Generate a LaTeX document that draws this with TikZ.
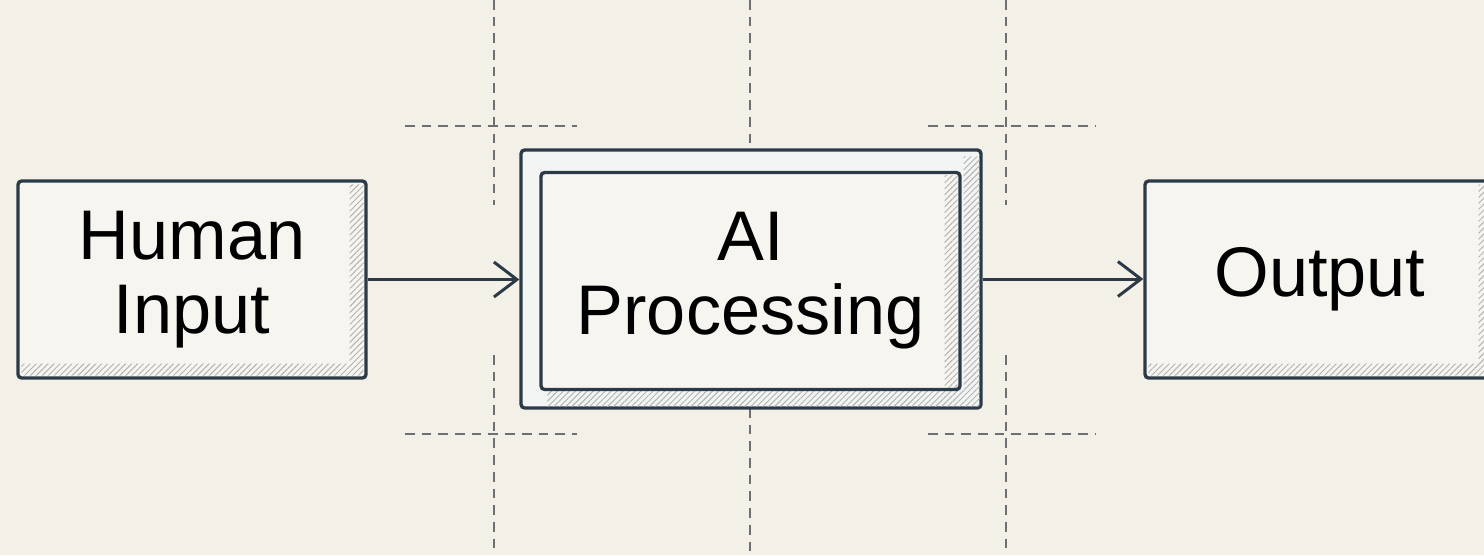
\documentclass[tikz,border=0pt]{standalone}
\usepackage{fontspec}
\setmainfont{Liberation Sans}
\usetikzlibrary{arrows.meta,patterns.meta}
\definecolor{paper}{HTML}{F3F0E8}
\definecolor{boxfill}{HTML}{F7F5EF}
\definecolor{gapfill}{HTML}{F3F5F4}
\definecolor{edge}{HTML}{2C3A47}
\definecolor{guide}{HTML}{6E6F72}
\tikzset{
  block/.style={draw=edge, line width=1.9pt, fill=boxfill, rounded corners=2pt,
    font=\fontsize{40}{42}\selectfont, align=center, inner sep=0pt},
  hatch/.style={pattern={Lines[angle=45,distance=2.4pt,line width=0.55pt]}, pattern color=gray!60},
  guideline/.style={draw=guide, line width=1.1pt, dash pattern=on 5.5pt off 4pt},
  flow/.style={draw=edge, line width=1.7pt, -{Straight Barb[length=0.46cm,width=0.7cm,line width=1.7pt]}}
}
\begin{document}
\begin{tikzpicture}[x=0.02cm,y=-0.02cm]
\fill[paper] (0,0) rectangle (1484,555);
\useasboundingbox (0,0) rectangle (1484,555);
% guide lines
\foreach \gx in {494,1006} {
  \draw[guideline] (\gx,0) -- (\gx,205);
  \draw[guideline] (\gx,355) -- (\gx,555);
}
\draw[guideline] (750,0) -- (750,150);
\draw[guideline] (750,408) -- (750,555);
\foreach \gy in {126,434} {
  \draw[guideline] (405,\gy) -- (577,\gy);
  \draw[guideline] (928,\gy) -- (1095,\gy);
}
% blocks
\node[block, minimum width=6.96cm, minimum height=3.94cm] (human) at (192,279.5) {Human\\Input};
\node[block, minimum width=7cm, minimum height=3.94cm] (output) at (1320,279.5) {Output};
\foreach \b in {human,output} {
  \fill[hatch] ([shift={(-18,5)}]\b.north east) -- ([shift={(-4,5)}]\b.north east)
    -- ([shift={(-4,-4)}]\b.south east) -- ([shift={(5,-4)}]\b.south west)
    -- ([shift={(5,-16)}]\b.south west) -- ([shift={(-18,-16)}]\b.south east) -- cycle;
}
\node[block, fill=gapfill, minimum width=9.2cm, minimum height=5.16cm] (aiouter) at (751,279) {};
\fill[hatch] ([shift={(-19,8)}]aiouter.north east) -- ([shift={(-3,8)}]aiouter.north east)
  -- ([shift={(-3,-3)}]aiouter.south east) -- ([shift={(28,-3)}]aiouter.south west)
  -- ([shift={(28,-19)}]aiouter.south west) -- ([shift={(-19,-19)}]aiouter.south east) -- cycle;
\node[block, minimum width=8.38cm, minimum height=4.34cm] (ai) at (750.5,281) {AI\\Processing};
\fill[hatch] ([shift={(-17,5)}]ai.north east) rectangle ([shift={(-4,-4)}]ai.south east);
% arrows
\draw[flow] (human.east) -- (human.east -| aiouter.west);
\draw[flow] (aiouter.east) -- (aiouter.east -| output.west);
\end{tikzpicture}
\end{document}
